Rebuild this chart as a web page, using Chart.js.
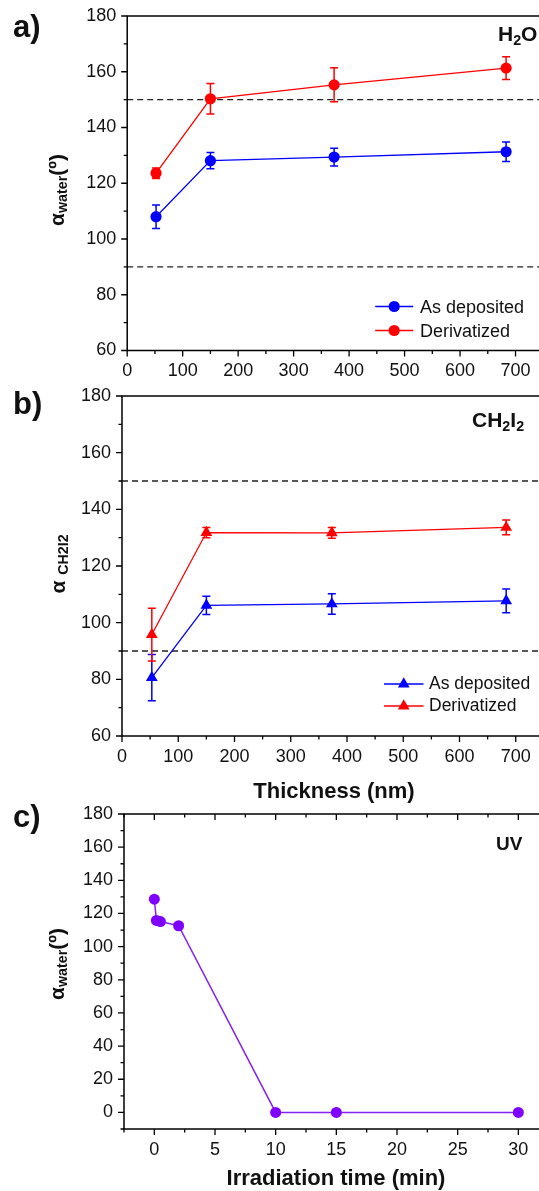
<!DOCTYPE html>
<html>
<head>
<meta charset="utf-8">
<script src="https://cdn.jsdelivr.net/npm/chart.js@4/dist/chart.umd.min.js"></script>
<style>
  html, body { margin: 0; padding: 0; background: #fff; overflow: hidden; width: 539px; height: 1191px; }
  body { position: relative; font-family: "Liberation Sans", Arial, sans-serif; color: #111; }
  canvas { position: absolute; left: 0; }
  .t { position: absolute; white-space: nowrap; line-height: 1; }
  .t sub { font-size: 0.68em; vertical-align: -0.28em; line-height: 0; }
  .panel { font-size: 31px; font-weight: bold; }
  .tag { font-size: 21px; font-weight: bold; }
  .ytitle { font-size: 21px; font-weight: bold; transform: translate(-50%, -50%) rotate(-90deg); }
  .xtitle { font-size: 22px; font-weight: bold; transform: translate(-50%, -50%); }
  .leg { font-size: 18px; transform: translateY(-50%); }
</style>
</head>
<body>
<canvas id="chartA" width="571" height="391" style="top:0px;width:571px;height:391px"></canvas>
<canvas id="chartB" width="572" height="396" style="top:380px;width:572px;height:396px"></canvas>
<canvas id="chartC" width="579" height="380" style="top:790px;width:579px;height:380px"></canvas>

<div class="t panel" style="left:13px;top:11px">a)</div>
<div class="t panel" style="left:13px;top:388px">b)</div>
<div class="t panel" style="left:13px;top:801px">c)</div>

<div class="t tag" style="left:498px;top:23px">H<sub>2</sub>O</div>
<div class="t tag" style="left:472px;top:409px">CH<sub>2</sub>I<sub>2</sub></div>
<div class="t tag" style="left:496px;top:834px;font-size:19px">UV</div>

<div class="t ytitle" style="left:56px;top:190px">α<sub>water</sub>(º)</div>
<div class="t ytitle" style="left:57px;top:564px">α <sub>CH2I2</sub></div>
<div class="t ytitle" style="left:56px;top:964px">α<sub>water</sub>(º)</div>

<div class="t xtitle" style="left:334px;top:791px">Thickness (nm)</div>
<div class="t xtitle" style="left:336px;top:1178px">Irradiation time (min)</div>

<div class="t leg" style="left:420px;top:307px">As deposited</div>
<div class="t leg" style="left:420px;top:331px">Derivatized</div>
<div class="t leg" style="left:429px;top:684px;font-size:17.5px">As deposited</div>
<div class="t leg" style="left:429px;top:706px;font-size:17.5px">Derivatized</div>

<script>
// a) water contact angle vs thickness
const thicknessA = [52, 150, 373, 683];
const waterAsDeposited = [108.0, 128.1, 129.4, 131.3];
const waterAsDepositedErr = [4.2, 2.9, 3.2, 3.5];
const waterDerivatized = [123.6, 150.3, 155.3, 161.3];
const waterDerivatizedErr = [1.9, 5.5, 6.1, 4.1];

// b) CH2I2 contact angle vs thickness
const thicknessB = [53, 150, 373, 683];
const diiodoAsDeposited = [80.6, 106.1, 106.6, 107.7];
const diiodoAsDepositedErr = [8.2, 3.2, 3.6, 4.2];
const diiodoDerivatized = [95.8, 131.8, 131.7, 133.6];
const diiodoDerivatizedErr = [9.3, 1.8, 1.9, 2.6];

// c) water contact angle vs UV time
const uvTime = [0, 0.17, 0.5, 2, 10, 15, 30];
const uvWater = [128.6, 115.8, 115.1, 112.6, 0, 0, 0];

// dashed reference levels
const limitLines = [150, 90];

// tick labels
const thicknessTicks = [0, 100, 200, 300, 400, 500, 600, 700];
const angleTicksAB = [60, 80, 100, 120, 140, 160, 180];
const timeTicks = [0, 5, 10, 15, 20, 25, 30];
const angleTicksC = [0, 20, 40, 60, 80, 100, 120, 140, 160, 180];

const BLUE = '#0000ff';
const RED = '#ff0000';
const PURPLE = '#8000ff';
const tickFont = { family: 'Liberation Sans', size: 18 };

function pts(xs, ys) {
  return xs.map((x, i) => ({ x: x, y: ys[i] }));
}

// frame + tick marks (major and minor)
const framePlugin = {
  id: 'frame',
  afterDraw(chart, args, o) {
    const { ctx, chartArea: a, scales } = chart;
    const x = scales.x, y = scales.y;
    const isMult = (v, s) => Math.abs(v / s - Math.round(v / s)) < 1e-6;
    ctx.save();
    ctx.strokeStyle = '#000';
    ctx.lineWidth = 1.5;
    ctx.strokeRect(a.left, a.top, a.right - a.left, a.bottom - a.top);
    ctx.lineWidth = 1.3;
    ctx.beginPath();
    for (let v = x.min; v <= x.max + 1e-9; v += o.xMinor) {
      const px = x.getPixelForValue(v);
      const len = isMult(v, o.xMajor) ? 6 : 3.5;
      ctx.moveTo(px, a.bottom);
      ctx.lineTo(px, a.bottom + len);
      if (o.topTicks) {
        ctx.moveTo(px, a.top);
        ctx.lineTo(px, a.top + len);
      }
    }
    for (let v = y.min; v <= y.max + 1e-9; v += o.yMinor) {
      const py = y.getPixelForValue(v);
      const len = isMult(v, o.yMajor) ? 6 : 3.5;
      ctx.moveTo(a.left, py);
      ctx.lineTo(a.left - len, py);
    }
    ctx.stroke();
    ctx.restore();
  }
};

const errorBarPlugin = {
  id: 'errorBars',
  afterDatasetsDraw(chart) {
    const { ctx } = chart;
    const y = chart.scales.y;
    chart.data.datasets.forEach((ds, i) => {
      if (!ds.errors) return;
      const meta = chart.getDatasetMeta(i);
      ctx.save();
      ctx.strokeStyle = ds.borderColor;
      ctx.lineWidth = 1.5;
      ctx.beginPath();
      meta.data.forEach((el, j) => {
        const v = ds.data[j].y, e = ds.errors[j];
        const top = y.getPixelForValue(v + e);
        const bot = y.getPixelForValue(v - e);
        ctx.moveTo(el.x, top); ctx.lineTo(el.x, bot);
        ctx.moveTo(el.x - 4, top); ctx.lineTo(el.x + 4, top);
        ctx.moveTo(el.x - 4, bot); ctx.lineTo(el.x + 4, bot);
      });
      ctx.stroke();
      ctx.restore();
    });
  }
};

// legend symbols (text is html)
const legendMarkPlugin = {
  id: 'legendMarks',
  afterDraw(chart, args, o) {
    if (!o.rows) return;
    const { ctx, chartArea: a } = chart;
    ctx.save();
    o.rows.forEach(r => {
      const yy = a.bottom + r.dy;
      const x0 = a.left + o.x0, x1 = a.left + o.x1, xm = (x0 + x1) / 2;
      ctx.strokeStyle = r.color;
      ctx.fillStyle = r.color;
      ctx.lineWidth = 1.3;
      ctx.beginPath();
      ctx.moveTo(x0, yy); ctx.lineTo(x1, yy);
      ctx.stroke();
      ctx.beginPath();
      if (r.style === 'triangle') {
        const rad = o.radius;
        ctx.moveTo(xm, yy - rad);
        ctx.lineTo(xm + rad * 0.866, yy + rad * 0.5);
        ctx.lineTo(xm - rad * 0.866, yy + rad * 0.5);
        ctx.closePath();
      } else {
        ctx.arc(xm, yy, o.radius, 0, Math.PI * 2);
      }
      ctx.fill();
    });
    ctx.restore();
  }
};

function makeOptions(p) {
  return {
    responsive: false,
    animation: false,
    layout: { padding: { top: p.top, left: 0, right: 0, bottom: 0 }, autoPadding: false },
    plugins: {
      legend: { display: false },
      tooltip: { enabled: false },
      frame: p.frame,
      legendMarks: p.legend || {}
    },
    scales: {
      x: {
        type: 'linear',
        min: p.xMin, max: p.xMax,
        border: { display: false },
        grid: { display: false, drawTicks: false },
        ticks: { autoSkip: false, maxRotation: 0, padding: 10, color: '#111', font: tickFont },
        afterBuildTicks: s => { s.ticks = p.xTicks.map(v => ({ value: v })); },
        afterFit: s => { s.height = p.xHeight; s.paddingLeft = 0; s.paddingRight = 0; }
      },
      y: {
        type: 'linear',
        min: p.yMin, max: p.yMax,
        border: { display: false },
        grid: { display: false, drawTicks: false },
        ticks: { autoSkip: false, padding: 11, color: '#111', font: tickFont },
        afterBuildTicks: s => { s.ticks = p.yTicks.map(v => ({ value: v })); },
        afterFit: s => { s.width = p.yWidth; s.paddingTop = 0; s.paddingBottom = 0; }
      }
    }
  };
}

function seriesDataset(xs, ys, errs, color, style, radius) {
  return {
    data: pts(xs, ys),
    errors: errs,
    borderColor: color,
    backgroundColor: color,
    borderWidth: 1.3,
    pointStyle: style,
    pointRadius: radius,
    pointBorderWidth: 0,
    tension: 0
  };
}

function limitDatasets(xMax) {
  return limitLines.map(v => ({
    data: [{ x: 0, y: v }, { x: xMax, y: v }],
    borderColor: '#222',
    borderWidth: 1.3,
    borderDash: [6, 4],
    pointRadius: 0
  }));
}

new Chart(document.getElementById('chartA'), {
  type: 'line',
  data: {
    datasets: [
      seriesDataset(thicknessA, waterAsDeposited, waterAsDepositedErr, BLUE, 'circle', 5.6),
      seriesDataset(thicknessA, waterDerivatized, waterDerivatizedErr, RED, 'circle', 5.6)
    ].concat(limitDatasets(800))
  },
  options: makeOptions({
    top: 16, xHeight: 40.5, yWidth: 127.2,
    xMin: 0, xMax: 800, xTicks: thicknessTicks,
    yMin: 60, yMax: 180, yTicks: angleTicksAB,
    frame: { xMajor: 100, xMinor: 50, yMajor: 20, yMinor: 10, topTicks: false },
    legend: { x0: 248, x1: 286, radius: 5.6,
      rows: [{ dy: -44, color: BLUE, style: 'circle' }, { dy: -20, color: RED, style: 'circle' }] }
  }),
  plugins: [framePlugin, errorBarPlugin, legendMarkPlugin]
});

new Chart(document.getElementById('chartB'), {
  type: 'line',
  data: {
    datasets: [
      seriesDataset(thicknessB, diiodoAsDeposited, diiodoAsDepositedErr, BLUE, 'triangle', 6.8),
      seriesDataset(thicknessB, diiodoDerivatized, diiodoDerivatizedErr, RED, 'triangle', 6.8)
    ].concat(limitDatasets(800))
  },
  options: makeOptions({
    top: 16, xHeight: 40, yWidth: 122,
    xMin: 0, xMax: 800, xTicks: thicknessTicks,
    yMin: 60, yMax: 180, yTicks: angleTicksAB,
    frame: { xMajor: 100, xMinor: 50, yMajor: 20, yMinor: 10, topTicks: false },
    legend: { x0: 262, x1: 301.5, radius: 6.8,
      rows: [{ dy: -52, color: BLUE, style: 'triangle' }, { dy: -30, color: RED, style: 'triangle' }] }
  }),
  plugins: [framePlugin, errorBarPlugin, legendMarkPlugin]
});

new Chart(document.getElementById('chartC'), {
  type: 'line',
  data: {
    datasets: [{
      data: pts(uvTime, uvWater),
      borderColor: '#8424f2',
      backgroundColor: PURPLE,
      borderWidth: 1.5,
      pointRadius: 5.5,
      pointBorderWidth: 0,
      tension: 0
    }]
  },
  options: makeOptions({
    top: 24, xHeight: 41, yWidth: 124,
    xMin: -2.5, xMax: 35, xTicks: timeTicks,
    yMin: -10, yMax: 180, yTicks: angleTicksC,
    frame: { xMajor: 5, xMinor: 2.5, yMajor: 20, yMinor: 10, topTicks: true }
  }),
  plugins: [framePlugin, errorBarPlugin, legendMarkPlugin]
});
</script>
</body>
</html>
